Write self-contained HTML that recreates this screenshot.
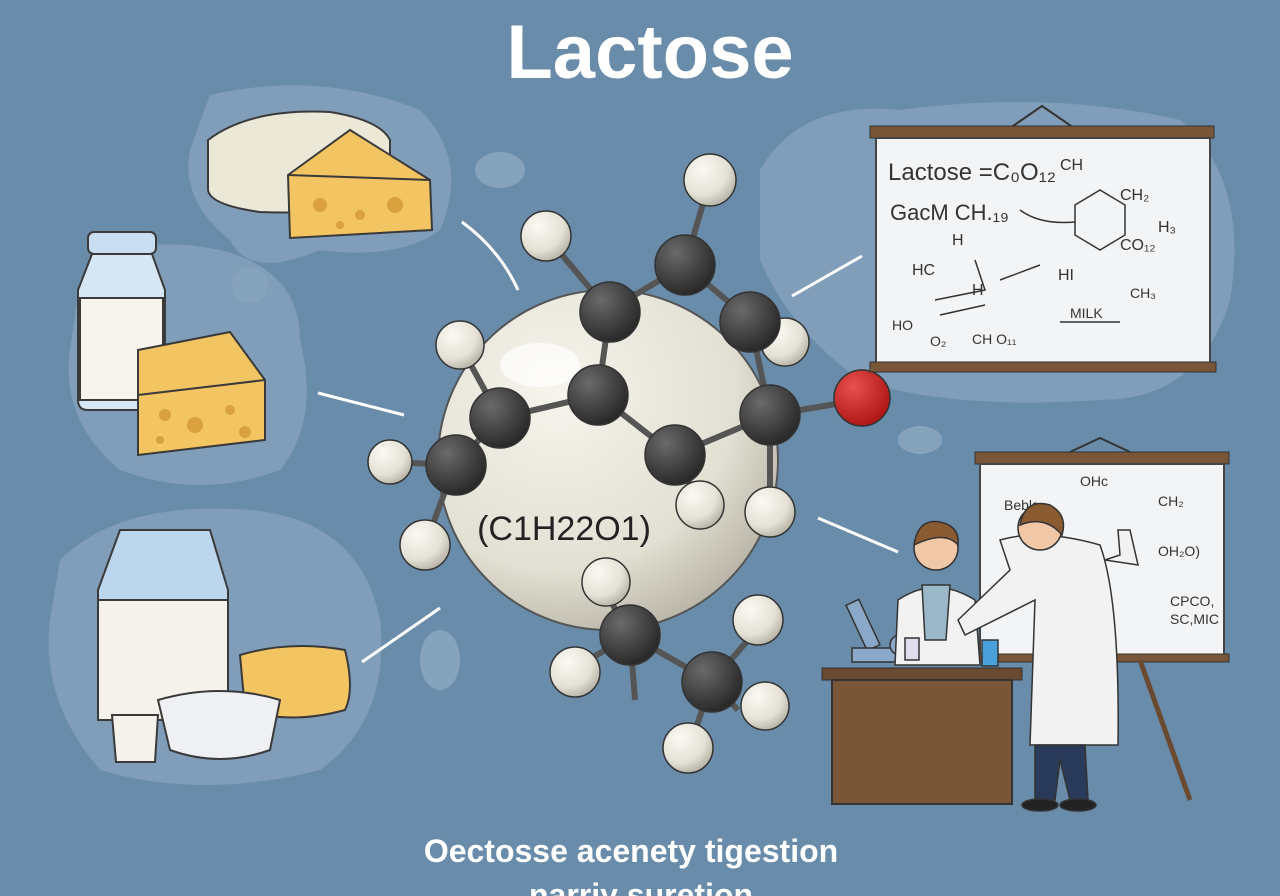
<!DOCTYPE html>
<html><head><meta charset="utf-8"><style>
html,body{margin:0;padding:0;width:1280px;height:896px;overflow:hidden;background:#6a8cab}
svg{display:block}
text{font-family:"Liberation Sans",sans-serif}
</style></head><body>
<svg width="1280" height="896" viewBox="0 0 1280 896">
<defs>
<radialGradient id="ball" cx="35%" cy="30%" r="70%"><stop offset="0" stop-color="#fbf9f2"/><stop offset="0.7" stop-color="#e4e1d6"/><stop offset="1" stop-color="#bdb9ad"/></radialGradient>
<radialGradient id="big" cx="35%" cy="30%" r="75%"><stop offset="0" stop-color="#f6f4ec"/><stop offset="0.7" stop-color="#e2dfd3"/><stop offset="1" stop-color="#b9b5a8"/></radialGradient>
<radialGradient id="dark" cx="35%" cy="30%" r="70%"><stop offset="0" stop-color="#6a6a6a"/><stop offset="1" stop-color="#2a2a2a"/></radialGradient>
<radialGradient id="red" cx="35%" cy="30%" r="70%"><stop offset="0" stop-color="#e85050"/><stop offset="1" stop-color="#b01818"/></radialGradient>
</defs>
<rect width="1280" height="896" fill="#6a8cab"/>
<g fill="#86a3bd" opacity="0.8">
<path d="M210 95 Q320 70 420 110 Q470 160 440 230 Q400 260 320 250 Q250 280 230 240 Q180 200 190 150 Z"/>
<path d="M80 280 Q120 230 220 250 Q300 270 300 340 Q320 420 280 470 Q200 500 120 470 Q60 420 70 350 Z"/>
<path d="M60 560 Q120 500 250 510 Q360 520 380 620 Q390 720 320 770 Q200 800 100 770 Q40 700 50 620 Z"/>
<path d="M760 170 Q800 100 900 110 Q1050 90 1180 120 Q1250 180 1230 300 Q1200 400 1100 400 Q950 410 860 380 Q790 330 760 260 Z"/>
</g>
<circle cx="250" cy="285" r="18" fill="#86a3bd"/>
<ellipse cx="500" cy="170" rx="25" ry="18" fill="#86a3bd"/>
<ellipse cx="920" cy="440" rx="22" ry="14" fill="#86a3bd"/>
<ellipse cx="440" cy="660" rx="20" ry="30" fill="#86a3bd"/>
<text x="650" y="78" text-anchor="middle" font-size="76" font-weight="bold" fill="#fff">Lactose</text>
<g stroke="#3a3a3a" stroke-width="2">
<path d="M208 140 Q250 108 330 112 Q380 120 390 140 L390 200 Q330 215 260 212 Q210 205 208 190 Z" fill="#ece8d8"/>
<path d="M288 175 L350 130 L430 180 L432 230 L290 238 Z" fill="#f2c462"/>
<path d="M288 175 L430 180" fill="none"/>
</g>
<g fill="#d9a23e"><circle cx="320" cy="205" r="7"/><circle cx="360" cy="215" r="5"/><circle cx="395" cy="205" r="8"/><circle cx="340" cy="225" r="4"/></g>
<g stroke="#3a3a3a" stroke-width="2">
<rect x="88" y="232" width="68" height="22" rx="6" fill="#c9dff1"/>
<path d="M92 254 L152 254 L165 290 L165 400 Q165 410 155 410 L88 410 Q78 410 78 400 L78 290 Z" fill="#d5e6f4"/>
<path d="M80 298 L163 298 L163 400 L80 400 Z" fill="#f6f4ec"/>
<path d="M138 350 L230 332 L265 380 L265 440 L138 455 Z" fill="#f2c462"/>
<path d="M138 395 L265 380" fill="none"/>
</g>
<g fill="#d9a23e"><circle cx="165" cy="415" r="6"/><circle cx="195" cy="425" r="8"/><circle cx="230" cy="410" r="5"/><circle cx="245" cy="432" r="6"/><circle cx="160" cy="440" r="4"/></g>
<g stroke="#3a3a3a" stroke-width="2">
<path d="M120 530 L210 530 L228 590 L228 720 L98 720 L98 590 Z" fill="#bcd6ee"/>
<rect x="98" y="600" width="130" height="120" fill="#f4f2ea"/>
<path d="M240 655 Q290 640 345 650 Q355 690 345 710 Q290 725 245 710 Z" fill="#f2c462"/>
<path d="M158 700 Q220 682 280 700 L270 750 Q220 768 170 750 Z" fill="#eef0f3"/>
<path d="M112 715 L158 715 L155 762 L116 762 Z" fill="#f4f2ea"/>
</g>
<g stroke="#fff" stroke-width="3" fill="none">
<path d="M462 222 Q500 250 518 290"/>
<path d="M318 393 L404 415"/>
<path d="M362 662 L440 608"/>
<path d="M792 296 L862 256"/>
<path d="M818 518 L898 552"/>
</g>
<circle cx="608" cy="460" r="170" fill="url(#big)" stroke="#555" stroke-width="2"/>
<ellipse cx="540" cy="365" rx="40" ry="22" fill="#fff" opacity="0.7"/>
<text x="564" y="540" text-anchor="middle" font-size="34" fill="#222">(C1H22O1)</text>
<g stroke="#555" stroke-width="6" fill="none">
<path d="M710 180 L685 265 L610 310 L598 395 L500 418 L455 465 L390 462 M455 465 L425 545 M500 418 L460 345 M598 395 L675 455 L700 505 M675 455 L770 415 L860 400 M770 415 L770 500 M770 415 L750 320 L685 265 M750 320 L785 342 M610 600 L630 635 L712 682 L738 710 M630 635 L575 668 M630 635 L635 700 M712 682 L760 626 M712 682 L690 745 M610 312 L546 236"/>
</g>
<g stroke="#333" stroke-width="1.5">
<circle cx="710" cy="180" r="26" fill="url(#ball)"/>
<circle cx="546" cy="236" r="25" fill="url(#ball)"/>
<circle cx="460" cy="345" r="24" fill="url(#ball)"/>
<circle cx="785" cy="342" r="24" fill="url(#ball)"/>
<circle cx="390" cy="462" r="22" fill="url(#ball)"/>
<circle cx="425" cy="545" r="25" fill="url(#ball)"/>
<circle cx="700" cy="505" r="24" fill="url(#ball)"/>
<circle cx="770" cy="512" r="25" fill="url(#ball)"/>
<circle cx="606" cy="582" r="24" fill="url(#ball)"/>
<circle cx="575" cy="672" r="25" fill="url(#ball)"/>
<circle cx="758" cy="620" r="25" fill="url(#ball)"/>
<circle cx="765" cy="706" r="24" fill="url(#ball)"/>
<circle cx="688" cy="748" r="25" fill="url(#ball)"/>
<circle cx="685" cy="265" r="30" fill="url(#dark)"/>
<circle cx="610" cy="312" r="30" fill="url(#dark)"/>
<circle cx="750" cy="322" r="30" fill="url(#dark)"/>
<circle cx="598" cy="395" r="30" fill="url(#dark)"/>
<circle cx="500" cy="418" r="30" fill="url(#dark)"/>
<circle cx="456" cy="465" r="30" fill="url(#dark)"/>
<circle cx="675" cy="455" r="30" fill="url(#dark)"/>
<circle cx="770" cy="415" r="30" fill="url(#dark)"/>
<circle cx="630" cy="635" r="30" fill="url(#dark)"/>
<circle cx="712" cy="682" r="30" fill="url(#dark)"/>
<circle cx="862" cy="398" r="28" fill="url(#red)"/>
</g>
<path d="M1010 128 L1042 106 L1074 128" stroke="#333" stroke-width="2" fill="none"/>
<rect x="870" y="126" width="344" height="12" fill="#7a5638" stroke="#333"/>
<rect x="876" y="138" width="334" height="226" fill="#f3f4f6" stroke="#444" stroke-width="2"/>
<rect x="870" y="362" width="346" height="10" fill="#7a5638" stroke="#333"/>
<g fill="#333" font-size="20">
<text x="888" y="180" font-size="24">Lactose =C₀O₁₂</text>
<text x="1060" y="170" font-size="16">CH</text>
<text x="890" y="220" font-size="22">GacM CH.₁₉</text>
<text x="1120" y="200" font-size="16">CH₂</text>
<text x="1158" y="232" font-size="16">H₃</text>
<text x="1120" y="250" font-size="16">CO₁₂</text>
<text x="952" y="245" font-size="16">H</text>
<text x="912" y="275" font-size="16">HC</text>
<text x="972" y="295" font-size="16">H</text>
<text x="1058" y="280" font-size="16">HI</text>
<text x="1130" y="298" font-size="14">CH₃</text>
<text x="1070" y="318" font-size="14">MILK</text>
<text x="892" y="330" font-size="14">HO</text>
<text x="930" y="346" font-size="14">O₂</text>
<text x="972" y="344" font-size="14">CH O₁₁</text>
</g>
<g stroke="#333" stroke-width="1.5" fill="none"><path d="M1075 205 L1100 190 L1125 205 L1125 235 L1100 250 L1075 235 Z M1020 210 Q1040 225 1075 222 M1000 280 L1040 265 M935 300 L985 290 L975 260 M940 315 L985 305 M1060 322 L1120 322"/></g>
<path d="M1070 452 L1100 438 L1130 452" stroke="#333" stroke-width="2" fill="none"/>
<rect x="975" y="452" width="254" height="12" fill="#7a5638" stroke="#333"/>
<rect x="980" y="464" width="244" height="192" fill="#f3f4f6" stroke="#444" stroke-width="2"/>
<rect x="975" y="654" width="254" height="8" fill="#7a5638" stroke="#333"/>
<path d="M1140 660 L1190 800" stroke="#6a4a30" stroke-width="5"/>
<g fill="#333" font-size="14"><text x="1004" y="510">Bebls</text><text x="1080" y="486">OHc</text><text x="1158" y="506">CH₂</text><text x="1158" y="556">OH₂O)</text><text x="1170" y="606">CPCO,</text><text x="1170" y="624">SC,MIC</text></g>
<rect x="822" y="668" width="200" height="12" fill="#6a4a30" stroke="#333"/>
<rect x="832" y="680" width="180" height="124" fill="#7a5638" stroke="#333" stroke-width="2"/>
<g stroke="#333" stroke-width="1.5" fill="#8aa8c8"><rect x="856" y="600" width="14" height="50" transform="rotate(-25 863 625)"/><rect x="852" y="648" width="44" height="14"/><circle cx="900" cy="645" r="10"/></g>
<g stroke="#333" stroke-width="1.5">
<path d="M898 600 Q935 575 975 600 L980 665 L895 665 Z" fill="#f2f2f2"/>
<path d="M922 585 L950 585 L946 640 L925 640 Z" fill="#9ab8c8"/>
<circle cx="936" cy="548" r="22" fill="#f0c8a8"/>
<path d="M914 545 Q918 518 940 522 Q960 526 958 545 Q945 530 914 545Z" fill="#8a5a30"/>
<rect x="905" y="638" width="14" height="22" fill="#dde"/>
<rect x="982" y="640" width="16" height="26" fill="#4aa0d8"/>
</g>
<g stroke="#333" stroke-width="1.5">
<path d="M1000 540 Q1040 528 1100 545 Q1120 600 1118 745 L1030 745 L1035 600 L965 635 L958 620 L1010 570 Z" fill="#f2f2f2"/>
<path d="M1105 560 L1138 565 L1130 530 L1118 530 L1120 555 Z" fill="#f2f2f2"/>
<circle cx="1040" cy="528" r="22" fill="#f0c8a8"/>
<path d="M1020 525 Q1025 498 1050 505 Q1068 515 1062 535 Q1045 515 1020 525Z" fill="#8a5a30"/>
<path d="M1035 745 L1085 745 L1088 800 L1070 800 L1060 760 L1055 800 L1035 800 Z" fill="#2a3a5a"/>
<ellipse cx="1040" cy="805" rx="18" ry="6" fill="#222"/><ellipse cx="1078" cy="805" rx="18" ry="6" fill="#222"/>
</g>
<text x="631" y="862" text-anchor="middle" font-size="32" font-weight="bold" fill="#fff">Oectosse acenety tigestion</text>
<text x="641" y="906" text-anchor="middle" font-size="32" font-weight="bold" fill="#fff">narriy suretion</text>
</svg>
</body></html>
